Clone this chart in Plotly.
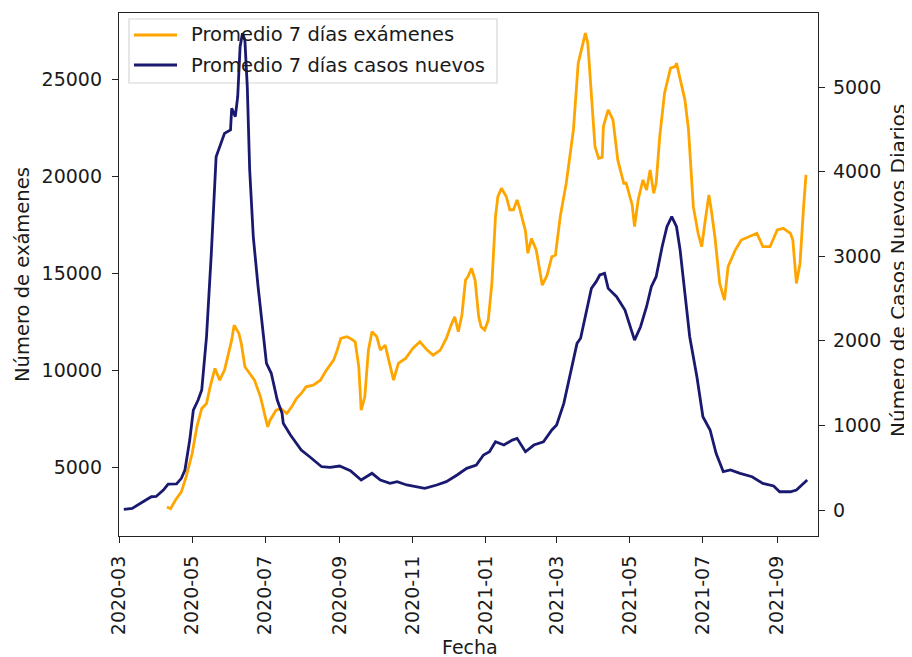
import pandas as pd
import plotly.graph_objects as go

# ---- data: day offset from 2020-03-01 and 7-day averages ----
inicio = "2020-03-01"

dias_casos = [4, 11, 20, 27, 31, 37, 41, 48, 52, 55, 59, 62, 66, 69, 73, 77, 81, 84, 88, 93, 94, 97, 99,
              101, 103, 105, 107, 109, 112, 116, 119, 123, 127, 132, 136, 137, 143, 148, 152, 159, 169,
              176, 184, 193, 198, 202, 211, 218, 226, 232, 240, 248, 255, 265, 273, 282, 290, 298, 304,
              309, 314, 321, 328, 332, 339, 346, 354, 361, 365, 371, 376, 382, 385, 390, 394, 398, 401,
              405, 408, 415, 422, 430, 435, 440, 444, 448, 453, 457, 461, 465, 468, 472, 476, 482, 487,
              493, 498, 504, 510, 518, 528, 537, 546, 551, 560, 565, 574]
casos = [8, 20, 98, 157, 160, 236, 307, 310, 375, 473, 827, 1182, 1300, 1418, 2048, 3034, 4176, 4294,
         4452, 4492, 4748, 4650, 4885, 5476, 5635, 5555, 5003, 4019, 3230, 2640, 2246, 1734, 1616, 1300,
         1143, 1025, 887, 788, 709, 630, 512, 505, 520, 465, 400, 355, 434, 355, 315, 335, 296, 276, 256,
         296, 335, 414, 493, 532, 650, 689, 807, 768, 827, 847, 689, 768, 807, 946, 1005, 1261, 1576,
         1970, 2030, 2364, 2620, 2699, 2778, 2798, 2620, 2521, 2364, 2009, 2167, 2403, 2639, 2758, 3112,
         3349, 3467, 3349, 3073, 2561, 2048, 1576, 1103, 946, 670, 453, 473, 434, 394, 315, 284, 216, 216,
         236, 355]

dias_examenes = [40, 43, 47, 52, 56, 61, 65, 69, 73, 76, 80, 84, 88, 91, 94, 96, 100, 102, 105, 109, 113,
                 118, 121, 124, 126, 131, 135, 140, 144, 148, 152, 156, 162, 168, 173, 179, 182, 185, 190,
                 193, 197, 200, 202, 205, 208, 211, 215, 218, 222, 225, 229, 233, 239, 245, 251, 257, 262,
                 268, 273, 277, 280, 283, 286, 289, 291, 294, 297, 300, 302, 305, 308, 311, 314, 316, 319,
                 323, 326, 329, 332, 334, 339, 341, 344, 348, 353, 357, 361, 364, 368, 373, 379, 383, 386,
                 389, 391, 394, 397, 400, 403, 404, 408, 412, 416, 421, 423, 428, 430, 433, 437, 440, 443,
                 446, 448, 451, 455, 460, 464, 465, 468, 472, 475, 478, 479, 483, 486, 489, 492, 494, 497,
                 501, 505, 508, 514, 519, 526, 532, 537, 543, 549, 554, 560, 562, 565, 568, 571, 573]
examenes = [2948, 2862, 3294, 3725, 4500, 5707, 7100, 8034, 8291, 9150, 10100, 9496, 10013, 10875, 11563,
            12338, 11908, 11391, 10186, 9841, 9496, 8633, 7900, 7084, 7430, 7946, 8034, 7774, 8117, 8550,
            8808, 9150, 9238, 9496, 10013, 10530, 11046, 11650, 11736, 11650, 11477, 10186, 7946, 8633,
            11046, 11994, 11736, 11046, 11305, 10530, 9496, 10358, 10616, 11133, 11477, 11046, 10788,
            11046, 11650, 12338, 12768, 11994, 12855, 14664, 14836, 15267, 14664, 12768, 12251, 12080,
            12597, 14493, 17935, 18969, 19400, 18969, 18282, 18282, 18798, 18400, 17200, 16045, 16800,
            16214, 14400, 14900, 15868, 15950, 17935, 19661, 22416, 25861, 26721, 27413, 26897, 24313,
            21553, 20954, 21000, 22586, 23450, 22933, 20866, 19661, 19661, 18540, 17419, 18798, 19832,
            19315, 20349, 19144, 19661, 22070, 24313, 25605, 25689, 25862, 25000, 23966, 22416, 19832,
            18452, 17078, 16385, 17765, 19057, 18282, 16902, 14491, 13630, 15353, 16214, 16731, 16902,
            17078, 16385, 16385, 17248, 17334, 17078, 16731, 14491, 15524, 18452, 20090]

etiqueta_examenes = "Promedio 7 días exámenes"
etiqueta_casos = "Promedio 7 días casos nuevos"
titulo_x = "Fecha"
titulo_y = "Número de exámenes"
titulo_y2 = "Número de Casos Nuevos Diarios"

base = pd.Timestamp(inicio)
fechas_casos = base + pd.to_timedelta(dias_casos, unit="D")
fechas_examenes = base + pd.to_timedelta(dias_examenes, unit="D")

NARANJA = "#FFA500"
AZUL = "#191970"
FONT = "DejaVu Sans"
TXT = "#1a1a1a"
AX = "#222222"

fig = go.Figure()
fig.add_trace(go.Scatter(x=fechas_examenes, y=examenes, mode="lines", name=etiqueta_examenes,
                         line=dict(color=NARANJA, width=2.8), yaxis="y", showlegend=False))
fig.add_trace(go.Scatter(x=fechas_casos, y=casos, mode="lines", name=etiqueta_casos,
                         line=dict(color=AZUL, width=2.8), yaxis="y2", showlegend=False))

# page body has an 8px margin, so the figure is offset by 8px
OFF = 8
W, H = 912 - OFF, 657 - OFF
L, R, T, B = 119 - OFF, 912 - 818, 13 - OFF, 657 - 536
pw, ph = W - L - R, H - T - B

def px(x):
    return (x - OFF - L) / pw

def py(y):
    return 1 - (y - OFF - T) / ph

TICKS = dict(ticks="outside", ticklen=6, tickcolor=AX, tickwidth=1.3,
             showline=True, linecolor=AX, linewidth=1.3,
             showgrid=False, zeroline=False)

fig.update_layout(
    width=W, height=H,
    margin=dict(l=L, r=R, t=T, b=B),
    paper_bgcolor="white", plot_bgcolor="white",
    font=dict(family=FONT, size=19, color=TXT),
    xaxis=dict(
        range=[base, base + pd.Timedelta(days=583)],
        tick0=inicio, dtick="M2", tickformat="%Y-%m", tickangle=-90,
        mirror=True, ticklabelstandoff=5,
        tickfont=dict(size=19), **TICKS,
    ),
    yaxis=dict(
        range=[1450, 28450], tick0=0, dtick=5000, tickformat="d",
        ticklabelstandoff=6,
        tickfont=dict(size=19), **TICKS,
    ),
    yaxis2=dict(
        range=[-307, 5875], tick0=0, dtick=1000, tickformat="d", overlaying="y", side="right",
        ticklabelstandoff=4,
        tickfont=dict(size=19), **TICKS,
    ),
)

# axis titles
fig.add_annotation(xref="paper", yref="paper", x=px(470), y=py(647), text=titulo_x,
                   showarrow=False, xanchor="center", yanchor="middle", font=dict(size=19))
fig.add_annotation(xref="paper", yref="paper", x=px(22), y=py(275), text=titulo_y, textangle=-90,
                   showarrow=False, xanchor="center", yanchor="middle", font=dict(size=19.5))
fig.add_annotation(xref="paper", yref="paper", x=px(898), y=py(271), text=titulo_y2, textangle=-90,
                   showarrow=False, xanchor="center", yanchor="middle", font=dict(size=20))

# legend drawn in the axes corner (box below the lines, like matplotlib's twin axes)
fig.add_shape(type="rect", xref="paper", yref="paper",
              x0=px(129), x1=px(497), y0=py(83), y1=py(19),
              line=dict(color="#d6d6d6", width=1.2), fillcolor="rgba(255,255,255,0.85)",
              layer="below")
for ycen, col, txt in [(35, NARANJA, etiqueta_examenes), (65, AZUL, etiqueta_casos)]:
    fig.add_shape(type="line", xref="paper", yref="paper",
                  x0=px(134), x1=px(177), y0=py(ycen), y1=py(ycen),
                  line=dict(color=col, width=2.8), layer="below")
    fig.add_annotation(xref="paper", yref="paper", x=px(189), y=py(ycen),
                       text=txt, showarrow=False, xanchor="left", yanchor="middle",
                       font=dict(family=FONT, size=19.5, color=TXT))

fig.write_html("out.html")
